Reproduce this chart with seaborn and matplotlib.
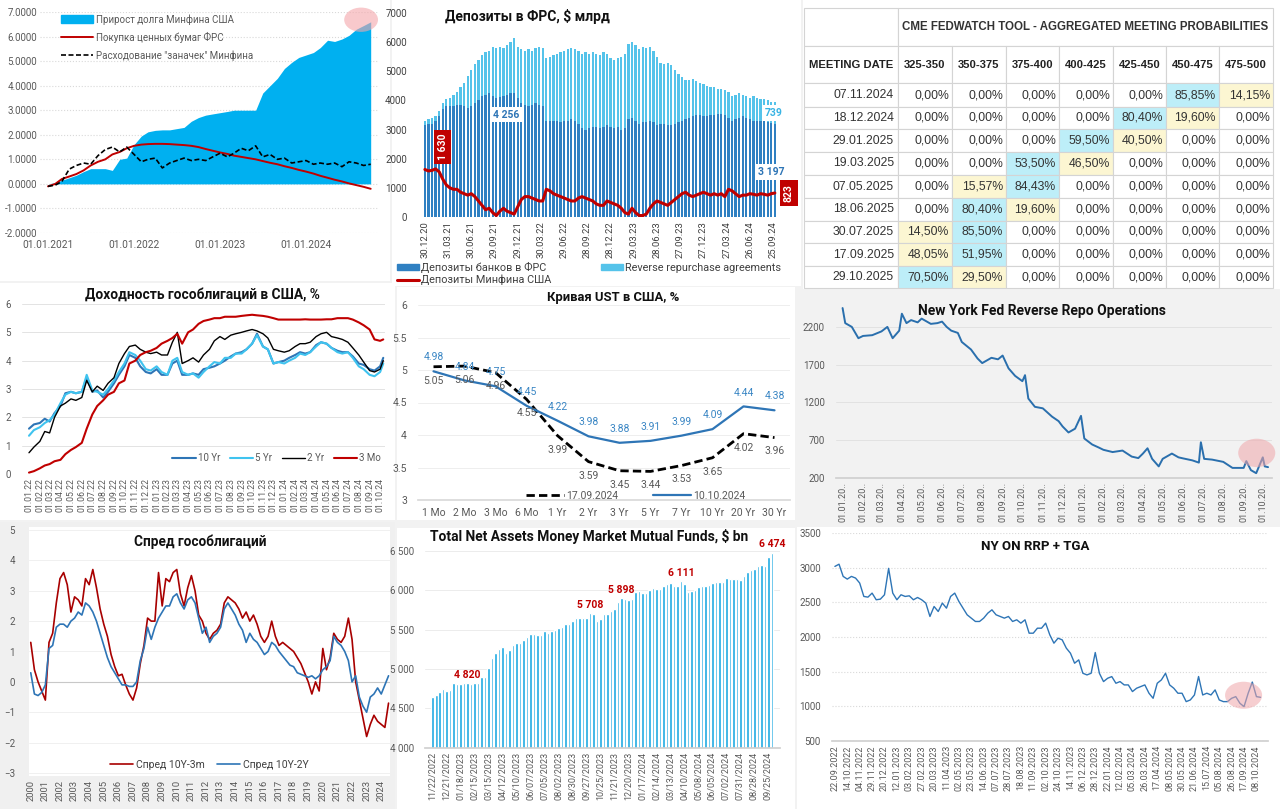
import numpy as np
import pandas as pd
import matplotlib
matplotlib.use("Agg")
import matplotlib.pyplot as plt
import matplotlib.dates as mdates
from matplotlib.patches import Rectangle, Ellipse, Patch
from matplotlib.lines import Line2D
import seaborn as sns

sns.set_theme(style="white")
plt.rcParams['font.family'] = ['Roboto', 'DejaVu Sans']

# ---------------- DATA ----------------
# Panel 1: monthly, Jan 2021 .. Oct 2024 (trillions $)
p1_start = '2021-01-01'
debt_growth = [0, 0.05, 0.15, 0.25, 0.35, 0.5, 0.62, 0.62, 0.62, 0.55, 1.0, 1.05,
               1.6, 1.95, 2.12, 2.18, 2.2, 2.2, 2.25, 2.3, 2.55, 2.7, 2.8, 2.85,
               2.9, 2.95, 3.0, 3.0, 3.0, 3.0, 3.7, 4.0, 4.3, 4.7, 4.95, 5.15,
               5.25, 5.35, 5.55, 5.85, 5.8, 5.9, 6.05, 6.3, 6.45, 6.6]
fed_purchases = [-0.1, 0.0, 0.2, 0.3, 0.4, 0.55, 0.75, 0.9, 1.0, 1.2, 1.3, 1.45,
                 1.55, 1.6, 1.62, 1.63, 1.63, 1.62, 1.6, 1.58, 1.55, 1.5, 1.42, 1.35,
                 1.28, 1.22, 1.15, 1.1, 1.05, 1.0, 0.93, 0.86, 0.8, 0.72, 0.65, 0.57,
                 0.5, 0.42, 0.33, 0.25, 0.17, 0.1, 0.02, -0.05, -0.12, -0.2]
tga_spend = [-0.1, -0.05, 0.1, 0.6, 0.75, 0.85, 0.8, 1.15, 1.4, 1.5, 1.3, 1.5,
             1.2, 0.9, 1.0, 1.05, 0.65, 0.85, 0.95, 1.05, 0.95, 1.0, 0.95, 1.1,
             1.25, 1.1, 1.25, 1.45, 1.35, 1.55, 1.1, 1.2, 1.0, 1.05, 0.85, 0.9,
             0.95, 0.8, 0.85, 0.8, 0.85, 0.7, 0.9, 0.85, 0.75, 0.8]
p1_legend = ['Прирост долга Минфина США', 'Покупка ценных бумаг ФРС', 'Расходование "заначек" Минфина']

# Panel 2: every 2 weeks from 30.12.2020, $ bn
p2_start = '2020-12-30'
bank_deposits = [3150, 3180, 3200, 3300, 3450, 3700, 3800, 3800, 3820, 3850,
                 3850, 3800, 3750, 3800, 3900, 4000, 4150, 4200, 4250, 4150,
                 4100, 4120, 4150, 4200, 4250, 4256, 4100, 3900, 3850, 3800,
                 3850, 3900, 3850, 3800, 3300, 3300, 3280, 3300, 3250, 3300,
                 3300, 3350, 3300, 3200, 3050, 3000, 3050, 3100, 3100, 3050,
                 3100, 3150, 3100, 3050, 3100, 3000, 3050, 3350, 3400, 3300,
                 3200, 3250, 3250, 3300, 3250, 3150, 3200, 3200, 3150, 3150,
                 3200, 3250, 3300, 3350, 3400, 3450, 3500, 3500, 3450, 3480,
                 3500, 3500, 3550, 3550, 3500, 3400, 3300, 3350, 3400, 3450,
                 3400, 3350, 3300, 3300, 3300, 3300, 3250, 3220, 3197]
reverse_repo = [150, 170, 200, 150, 200, 200, 250, 300, 380, 450,
                600, 800, 1100, 1250, 1350, 1400, 1400, 1450, 1450, 1700,
                1700, 1730, 1650, 1700, 1750, 1894, 1750, 1850, 1850, 1950,
                1850, 1900, 2000, 2000, 2150, 2200, 2270, 2300, 2400, 2400,
                2450, 2450, 2450, 2500, 2550, 2650, 2550, 2550, 2500, 2500,
                2550, 2450, 2350, 2350, 2350, 2500, 2550, 2600, 2600, 2600,
                2550, 2600, 2550, 2550, 2450, 2350, 2100, 2050, 2150, 2050,
                1850, 1650, 1500, 1350, 1300, 1300, 1150, 1100, 1100, 1020,
                950, 950, 850, 850, 850, 900, 850, 850, 850, 750,
                750, 750, 850, 800, 750, 750, 750, 730, 739]
treasury_deposits = [1630, 1580, 1600, 1650, 1550, 1300, 1100, 1000, 950, 950,
                     850, 800, 750, 800, 700, 550, 400, 250, 300, 150,
                     50, 200, 300, 200, 150, 100, 350, 600, 700, 700,
                     650, 600, 550, 550, 950, 900, 800, 750, 700, 650,
                     600, 550, 550, 650, 700, 650, 600, 550, 450, 400,
                     400, 550, 500, 450, 400, 300, 150, 100, 300, 150,
                     50, 50, 100, 300, 450, 550, 500, 450, 400, 500,
                     600, 700, 800, 850, 750, 700, 750, 800, 850, 800,
                     750, 800, 750, 800, 700, 950, 900, 800, 700, 750,
                     750, 800, 780, 750, 800, 780, 750, 800, 823]
p2_tick_dates = ['2020-12-30', '2021-03-31', '2021-06-30', '2021-09-29', '2021-12-29',
                 '2022-03-30', '2022-06-29', '2022-09-28', '2022-12-28', '2023-03-29',
                 '2023-06-28', '2023-09-27', '2023-12-27', '2024-03-27', '2024-06-26',
                 '2024-09-25']
p2_legend = ['Депозиты банков в ФРС', 'Депозиты Минфина США', 'Reverse repurchase agreements']

# Panel 3: CME FedWatch table
meeting_dates = ['07.11.2024', '18.12.2024', '29.01.2025', '19.03.2025', '07.05.2025',
                 '18.06.2025', '30.07.2025', '17.09.2025', '29.10.2025']
rate_buckets = ['325-350', '350-375', '375-400', '400-425', '425-450', '450-475', '475-500']
probabilities = [
    [0, 0, 0, 0, 0, 85.85, 14.15],
    [0, 0, 0, 0, 80.40, 19.60, 0],
    [0, 0, 0, 59.50, 40.50, 0, 0],
    [0, 0, 53.50, 46.50, 0, 0, 0],
    [0, 15.57, 84.43, 0, 0, 0, 0],
    [0, 80.40, 19.60, 0, 0, 0, 0],
    [14.50, 85.50, 0, 0, 0, 0, 0],
    [48.05, 51.95, 0, 0, 0, 0, 0],
    [70.50, 29.50, 0, 0, 0, 0, 0]]

# Panel 4: yields, 1st and 15th of each month Jan 2022 .. Sep 2024, then 01.10 and 10.10.2024
yield_3m = [0.05, 0.1, 0.2, 0.3, 0.35, 0.45, 0.5, 0.7, 0.85, 0.95, 1.1, 1.6, 2.1, 2.4, 2.6, 2.8, 2.9, 3.2, 3.3, 3.9, 4.0, 4.2, 4.3, 4.35,
            4.45, 4.6, 4.7, 4.8, 4.95, 4.6, 5.0, 5.1, 5.3, 5.4, 5.45, 5.5, 5.5, 5.55, 5.55, 5.55, 5.58, 5.6, 5.62, 5.6, 5.58, 5.55, 5.5, 5.45,
            5.45, 5.45, 5.45, 5.45, 5.46, 5.45, 5.45, 5.45, 5.46, 5.46, 5.5, 5.5, 5.5, 5.45, 5.35, 5.25, 5.1, 4.75, 4.7, 4.75]
yield_2y = [0.75, 0.95, 1.15, 1.5, 1.45, 2.0, 2.4, 2.5, 2.65, 2.6, 2.7, 3.3, 2.9, 3.1, 2.95, 3.2, 3.4, 3.9, 4.25, 4.5, 4.55, 4.4, 4.3, 4.25,
            4.3, 4.2, 4.2, 4.65, 5.0, 3.9, 4.0, 4.1, 3.95, 4.2, 4.4, 4.7, 4.85, 4.75, 4.9, 4.95, 5.0, 5.05, 5.1, 5.05, 4.95, 4.8, 4.4, 4.35,
            4.3, 4.35, 4.5, 4.6, 4.6, 4.65, 4.85, 4.95, 5.0, 4.85, 4.8, 4.75, 4.65, 4.45, 4.2, 3.95, 3.65, 3.6, 3.7, 4.0]
yield_5y = [1.35, 1.55, 1.65, 1.8, 1.9, 2.1, 2.5, 2.8, 2.9, 2.85, 2.9, 3.5, 2.95, 2.9, 2.8, 3.0, 3.3, 3.6, 3.9, 4.3, 4.2, 4.0, 3.7, 3.65,
            3.8, 3.6, 3.5, 4.0, 4.1, 3.6, 3.5, 3.55, 3.4, 3.6, 3.8, 3.95, 3.9, 4.1, 4.1, 4.25, 4.25, 4.4, 4.6, 4.9, 4.5, 4.4, 3.9, 3.95,
            3.9, 4.0, 4.1, 4.25, 4.2, 4.3, 4.5, 4.65, 4.6, 4.45, 4.3, 4.25, 4.3, 4.1, 3.8, 3.7, 3.5, 3.45, 3.6, 3.9]
yield_10y = [1.6, 1.75, 1.8, 1.95, 1.85, 2.15, 2.4, 2.85, 2.9, 2.85, 2.9, 3.4, 2.9, 2.95, 2.7, 2.9, 3.2, 3.5, 3.8, 4.2, 4.1, 3.8, 3.6, 3.55,
             3.7, 3.5, 3.5, 3.9, 4.0, 3.5, 3.5, 3.55, 3.5, 3.7, 3.75, 3.8, 3.9, 4.0, 4.15, 4.25, 4.3, 4.4, 4.6, 4.95, 4.5, 4.4, 3.9, 3.95,
             4.0, 4.1, 4.2, 4.3, 4.25, 4.3, 4.55, 4.65, 4.6, 4.45, 4.35, 4.3, 4.3, 4.15, 3.9, 3.85, 3.7, 3.65, 3.8, 4.1]
p4_series = ['10 Yr', '5 Yr', '2 Yr', '3 Mo']

# Panel 5: UST curve
tenors = ['1 Mo', '2 Mo', '3 Mo', '6 Mo', '1 Yr', '2 Yr', '3 Yr', '5 Yr', '7 Yr', '10 Yr', '20 Yr', '30 Yr']
curve_sep17 = [5.05, 5.06, 4.96, 4.55, 3.99, 3.59, 3.45, 3.44, 3.53, 3.65, 4.02, 3.96]
curve_oct10 = [4.98, 4.84, 4.75, 4.45, 4.22, 3.98, 3.88, 3.91, 3.99, 4.09, 4.44, 4.38]

# Panel 6: NY Fed reverse repo, $ bn
rrp_ops_dates = ['2023-01-01', '2023-01-05', '2023-01-15', '2023-01-25', '2023-02-01', '2023-02-15', '2023-03-01',
                 '2023-03-10', '2023-03-18', '2023-03-28', '2023-04-01', '2023-04-08', '2023-04-15', '2023-04-25',
                 '2023-05-01', '2023-05-15', '2023-05-25', '2023-06-01', '2023-06-08', '2023-06-15', '2023-06-25',
                 '2023-07-01', '2023-07-15', '2023-07-25', '2023-08-01', '2023-08-15', '2023-08-25', '2023-09-01',
                 '2023-09-10', '2023-09-20', '2023-10-01', '2023-10-05', '2023-10-10', '2023-10-20', '2023-11-01',
                 '2023-11-15', '2023-11-25', '2023-12-01', '2023-12-10', '2023-12-20', '2023-12-29', '2024-01-03',
                 '2024-01-15', '2024-01-25', '2024-02-01', '2024-02-15', '2024-03-01', '2024-03-15', '2024-03-25',
                 '2024-04-01', '2024-04-08', '2024-04-15', '2024-04-25', '2024-05-01', '2024-05-15', '2024-05-25',
                 '2024-06-01', '2024-06-15', '2024-06-25', '2024-06-28', '2024-07-03', '2024-07-15', '2024-08-01',
                 '2024-08-15', '2024-09-01', '2024-09-05', '2024-09-12', '2024-09-20', '2024-09-30', '2024-10-03',
                 '2024-10-08']
rrp_ops = [2450, 2250, 2200, 2050, 2080, 2090, 2140, 2200, 2050, 2150, 2375, 2250, 2290, 2260,
           2310, 2240, 2250, 2270, 2200, 2150, 2120, 2000, 1900, 1780, 1720, 1790, 1770, 1820,
           1650, 1550, 1480, 1560, 1250, 1140, 1120, 1010, 950, 880, 800, 850, 1020, 720,
           640, 600, 570, 540, 560, 480, 460, 520, 590, 450, 350, 450, 520, 470,
           456, 430, 400, 670, 450, 440, 410, 330, 330, 420, 300, 260, 470, 350, 340]

# Panel 7: spreads, quarterly 2000 .. mid-2024
spread_10y3m = [1.3, 0.4, 0.0, -0.3, -0.6, 1.3, 1.6, 2.6, 3.4, 3.6, 3.2, 2.3, 2.8, 2.7, 2.5, 3.4, 3.2, 3.7, 3.1, 2.4,
                1.9, 1.5, 0.9, 0.5, 0.2, 0.25, -0.1, -0.4, -0.6, -0.2, 0.6, 1.2, 2.1, 2.0, 2.0, 3.6, 2.5, 3.4, 3.3, 3.6,
                3.7, 2.9, 2.5, 3.1, 3.5, 3.0, 2.2, 2.0, 1.6, 1.4, 1.6, 1.7, 1.9, 2.6, 2.8, 2.7, 2.6, 2.4, 2.1, 2.3,
                2.0, 2.2, 1.9, 1.5, 1.3, 1.5, 2.0, 1.5, 1.2, 1.3, 1.2, 1.1, 1.0, 0.8, 0.6, 0.3, 0.0, -0.4, 0.0, -0.3,
                1.1, 0.4, 0.8, 1.6, 1.4, 1.3, 1.5, 2.1, 1.4, 0.0, -0.6, -1.2, -1.8, -1.4, -1.1, -1.3, -1.4, -1.5, -0.7]
spread_10y2y = [0.3, -0.4, -0.45, -0.35, -0.1, 1.1, 1.2, 1.8, 1.9, 1.9, 1.8, 2.0, 2.1, 2.3, 2.2, 2.6, 2.5, 2.3, 2.0, 1.6,
                1.2, 0.8, 0.5, 0.3, 0.1, -0.1, -0.1, -0.15, -0.15, 0.0, 0.7, 1.1, 1.8, 1.4, 1.8, 2.1, 2.3, 2.5, 2.5, 2.8,
                2.9, 2.6, 2.4, 2.7, 2.8, 2.6, 2.1, 1.6, 1.8, 1.3, 1.5, 1.6, 1.8, 2.4, 2.6, 2.4, 2.2, 1.9, 1.7, 1.3,
                1.6, 1.4, 1.3, 1.1, 0.9, 1.0, 1.3, 1.2, 1.0, 0.85, 0.7, 0.55, 0.5, 0.3, 0.25, 0.2, 0.15, 0.2, 0.1, 0.2,
                0.4, 0.5, 0.7, 1.5, 1.3, 1.2, 1.0, 0.7, 0.0, 0.2, -0.5, -0.8, -1.0, -0.5, -0.4, -0.2, -0.4, -0.1, 0.2]
p7_legend = ['Спред 10Y-3m', 'Спред 10Y-2Y']

# Panel 8: MMF total net assets, weekly
mmf_assets = [4648, 4670, 4712, 4740, 4720, 4733, 4818, 4810, 4810, 4818,
              4820, 4810, 4818, 4818, 4900, 4900, 5008, 5135, 5200, 5250,
              5275, 5208, 5240, 5305, 5326, 5335, 5370, 5411, 5445, 5445,
              5428, 5428, 5475, 5453, 5475, 5496, 5517, 5538, 5572, 5572,
              5602, 5640, 5652, 5644, 5652, 5708, 5700, 5614, 5631, 5695,
              5700, 5729, 5758, 5843, 5898, 5890, 5877, 5890, 5979, 5983,
              5962, 5962, 5996, 6021, 6013, 6013, 6055, 6080, 6095, 6046,
              6046, 6111, 6076, 5975, 5983, 6004, 6034, 6046, 6055, 6068,
              6089, 6102, 6102, 6097, 6152, 6144, 6140, 6144, 6127, 6182,
              6225, 6250, 6267, 6300, 6322, 6300, 6419, 6474]
mmf_label_idx = [10, 45, 54, 71, 97]
mmf_ticklabels = ['11/22/2022', '12/21/2022', '01/18/2023', '02/15/2023', '03/15/2023', '04/12/2023',
                  '05/10/2023', '06/07/2023', '07/05/2023', '08/02/2023', '08/30/2023', '09/27/2023',
                  '10/25/2023', '11/21/2023', '12/20/2023', '01/17/2024', '02/14/2024', '03/13/2024',
                  '04/10/2024', '05/08/2024', '06/05/2024', '07/02/2024', '07/31/2024', '08/28/2024',
                  '09/25/2024']

# Panel 9: NY ON RRP + TGA, every 5 business days
rrp_tga = [3018, 3050, 2874, 2835, 2874, 2850, 2778, 2585, 2575, 2633,
           2537, 2546, 2609, 2990, 2633, 2537, 2609, 2585, 2594, 2537,
           2570, 2537, 2489, 2296, 2440, 2368, 2489, 2416, 2585, 2633,
           2513, 2416, 2320, 2272, 2224, 2224, 2272, 2344, 2392, 2320,
           2296, 2272, 2296, 2224, 2248, 2200, 2248, 2055, 2055, 2127,
           2127, 2200, 2031, 1911, 1983, 1959, 1839, 1766, 1622, 1670,
           1477, 1453, 1477, 1776, 1477, 1357, 1405, 1429, 1333, 1357,
           1309, 1309, 1213, 1261, 1285, 1309, 1189, 1116, 1333, 1381,
           1477, 1309, 1261, 1189, 1189, 1068, 1092, 1164, 1430, 1164,
           1189, 1164, 1237, 1092, 1068, 1068, 1116, 1140, 1044, 996,
           1189, 1350, 1140, 1130]
rrp_tga_ticklabels = ['22.09.2022', '14.10.2022', '04.11.2022', '29.11.2022', '20.12.2022', '12.01.2023',
                      '03.02.2023', '27.02.2023', '20.03.2023', '11.04.2023', '02.05.2023', '23.05.2023',
                      '14.06.2023', '07.07.2023', '28.07.2023', '18.08.2023', '11.09.2023', '02.10.2023',
                      '24.10.2023', '14.11.2023', '06.12.2023', '28.12.2023', '22.01.2024', '12.02.2024',
                      '05.03.2024', '26.03.2024', '17.04.2024', '08.05.2024', '30.05.2024', '21.06.2024',
                      '15.07.2024', '05.08.2024', '26.08.2024', '17.09.2024', '08.10.2024']

# ---------------- LAYOUT HELPERS ----------------
W, H = 1280, 809
fig = plt.figure(figsize=(12.8, 8.09), dpi=100)
fig.patch.set_facecolor('#f2f2f2')
TICK = '#595959'


def frect(x0, y0, x1, y1):
    return [x0 / W, 1 - y1 / H, (x1 - x0) / W, (y1 - y0) / H]


def bg(x0, y0, x1, y1, color):
    fig.add_artist(Rectangle((x0 / W, 1 - y1 / H), (x1 - x0) / W, (y1 - y0) / H,
                             transform=fig.transFigure, facecolor=color, edgecolor='none', zorder=-5))


def ftext(x, y, s, **kw):
    fig.text(x / W, 1 - y / H, s, **kw)


def clean(ax, size=7, color=TICK):
    for s in ax.spines.values():
        s.set_visible(False)
    ax.set_facecolor('none')
    ax.tick_params(axis='both', length=0, labelsize=size, colors=color, pad=2)


def spaced(v):
    return f'{v:,}'.replace(',', ' ')


bg(0, 0, 390, 281, 'white')
bg(392, 0, 801, 286, 'white')
bg(803, 0, 1280, 289, 'white')
bg(0, 283, 395, 520, 'white')
bg(397, 287, 795, 520, 'white')
bg(797, 290, 1280, 520, '#f2f2f2')
bg(0, 522, 395, 809, '#f0f0f0')
bg(397, 528, 795, 809, 'white')
bg(797, 527, 1280, 809, 'white')

# ---------------- PANEL 1 ----------------
p1_dates = pd.date_range(p1_start, periods=len(debt_growth), freq='MS')
ax1 = fig.add_axes(frect(40, 12, 378, 233))
clean(ax1)
ax1.fill_between(p1_dates, 0, debt_growth, color='#00b0f0', lw=0, zorder=2)
sns.lineplot(x=p1_dates, y=fed_purchases, ax=ax1, color='#c00000', lw=1.4, zorder=3)
sns.lineplot(x=p1_dates, y=tga_spend, ax=ax1, color='black', lw=1.2, linestyle=(0, (3, 1.5)), zorder=4)
ax1.set_xlim(pd.Timestamp('2020-11-28'), pd.Timestamp('2024-11-01'))
ax1.set_ylim(-2, 7)
ax1.set_yticks(range(-2, 8))
ax1.set_yticklabels([f'{v:.4f}' for v in range(-2, 8)])
ax1.yaxis.grid(True, color='#d9d9d9', ls=':', lw=0.8)
ax1.set_axisbelow(True)
ax1.set_xticks(pd.to_datetime(['2021-01-01', '2022-01-01', '2023-01-01', '2024-01-01']))
ax1.xaxis.set_major_formatter(mdates.DateFormatter('%d.%m.%Y'))
ax1.tick_params(axis='x', pad=5, labelsize=7.3)
h1 = [Patch(color='#00b0f0'), Line2D([], [], color='#c00000', lw=1.4),
      Line2D([], [], color='black', lw=1.2, ls=(0, (3, 1.5)))]
ax1.legend(h1, p1_legend, loc='upper left', bbox_to_anchor=(0.035, 1.03), frameon=False,
           fontsize=7, labelcolor=TICK, handlelength=3.3, handleheight=0.9, labelspacing=0.75,
           handletextpad=0.3)
ax1.add_patch(Ellipse((0.95, 0.965), 0.1, 0.11, transform=ax1.transAxes, color='#f4a6aa',
                      alpha=0.6, clip_on=False, zorder=5, lw=0))

# ---------------- PANEL 2 ----------------
p2_dates = pd.date_range(p2_start, periods=len(bank_deposits), freq='14D')
ax2 = fig.add_axes(frect(418, 13, 782, 217))
clean(ax2, 7, '#404040')
ax2.bar(p2_dates, bank_deposits, width=9, color='#2f80c2', lw=0, zorder=2)
ax2.bar(p2_dates, reverse_repo, bottom=bank_deposits, width=9, color='#55c3ea', lw=0, zorder=2)
sns.lineplot(x=p2_dates, y=treasury_deposits, ax=ax2, color='#c00000', lw=2.2, zorder=3)
ax2.set_xlim(pd.Timestamp('2020-12-03'), pd.Timestamp('2024-10-30'))
ax2.set_ylim(0, 7000)
ax2.set_yticks(range(0, 7001, 1000))
ax2.yaxis.set_tick_params(pad=8)
ax2.set_xticks(pd.to_datetime(p2_tick_dates))
ax2.xaxis.set_major_formatter(mdates.DateFormatter('%d.%m.%y'))
ax2.tick_params(axis='x', rotation=90, labelsize=6.8, pad=3)
ftext(445, 17, 'Депозиты в ФРС, $ млрд', fontsize=10, fontweight='bold', va='center', color='#111111')
d0, dl = p2_dates[0], p2_dates[-1]
ax2.text(d0 + pd.Timedelta(days=70), treasury_deposits[0] + 770, spaced(treasury_deposits[0]),
         rotation=90, ha='center', va='center', color='white', fontsize=7.5, fontweight='bold',
         bbox=dict(boxstyle='square,pad=0.35', fc='#c00000', ec='none'), zorder=6)
ax2.text(dl + pd.Timedelta(days=55), treasury_deposits[-1], spaced(treasury_deposits[-1]),
         rotation=90, ha='center', va='center', color='white', fontsize=7.5, fontweight='bold',
         bbox=dict(boxstyle='square,pad=0.35', fc='#c00000', ec='none'), zorder=6, clip_on=False)
ax2.text(p2_dates[25] - pd.Timedelta(days=30), bank_deposits[25] - 750, spaced(bank_deposits[25]),
         ha='center', va='center', color='#2e75b6', fontsize=7.5, fontweight='bold',
         bbox=dict(boxstyle='square,pad=0.25', fc='white', ec='none'), zorder=6)
ax2.text(dl - pd.Timedelta(days=5), bank_deposits[-1] + reverse_repo[-1] - 370, spaced(reverse_repo[-1]),
         ha='center', va='center', color='#3ab4e4', fontsize=7.5, fontweight='bold',
         bbox=dict(boxstyle='square,pad=0.25', fc='white', ec='none'), zorder=6)
ax2.text(dl - pd.Timedelta(days=15), bank_deposits[-1] - 1650, spaced(bank_deposits[-1]),
         ha='center', va='center', color='#2e75b6', fontsize=7.5, fontweight='bold',
         bbox=dict(boxstyle='square,pad=0.25', fc='white', ec='none'), zorder=6)
h2 = [Patch(color='#2f80c2'), Line2D([], [], color='#c00000', lw=2.2), Patch(color='#55c3ea')]
ax2.legend(h2, p2_legend, loc='upper left', bbox_to_anchor=(-0.07, -0.2), ncol=2, frameon=False,
           fontsize=7.8, labelcolor='#404040', handlelength=2.0, handleheight=0.5, labelspacing=0.15,
           handletextpad=0.2, columnspacing=4.6, borderaxespad=0)

# ---------------- PANEL 3 (table) ----------------
ax3 = fig.add_axes(frect(800, 0, 1280, 290))
ax3.set_xlim(800, 1280)
ax3.set_ylim(290, 0)
ax3.axis('off')
col_edges = [804, 898, 952, 1006, 1059, 1113, 1166, 1219, 1273]
row_edges = [8, 46, 83, 107, 129, 152, 175, 198, 221, 243, 266, 288]
EDGE = '#d4d4d4'
TF = ['Liberation Sans', 'DejaVu Sans']
ax3.add_patch(Rectangle((col_edges[0], row_edges[0]), col_edges[1] - col_edges[0],
                        row_edges[1] - row_edges[0], fc='white', ec=EDGE, lw=0.8))
ax3.add_patch(Rectangle((col_edges[1], row_edges[0]), col_edges[-1] - col_edges[1],
                        row_edges[1] - row_edges[0], fc='white', ec=EDGE, lw=0.8))
ax3.text((col_edges[1] + col_edges[-1]) / 2, (row_edges[0] + row_edges[1]) / 2,
         'CME FEDWATCH TOOL - AGGREGATED MEETING PROBABILITIES', ha='center', va='center',
         fontsize=8.3, fontweight='bold', color='#333333', family=TF)
header = ['MEETING DATE'] + rate_buckets
for j, lab in enumerate(header):
    x0, x1 = col_edges[j], col_edges[j + 1]
    ax3.add_patch(Rectangle((x0, row_edges[1]), x1 - x0, row_edges[2] - row_edges[1], fc='white', ec=EDGE, lw=0.8))
    ax3.text((x0 + x1) / 2, (row_edges[1] + row_edges[2]) / 2, lab, ha='center', va='center',
             fontsize=8.1, fontweight='bold', color='#222222', family=TF)
for i, (dt, row) in enumerate(zip(meeting_dates, probabilities)):
    y0, y1 = row_edges[i + 2], row_edges[i + 3]
    ax3.add_patch(Rectangle((col_edges[0], y0), col_edges[1] - col_edges[0], y1 - y0, fc='white', ec=EDGE, lw=0.8))
    ax3.text(col_edges[1] - 4, (y0 + y1) / 2, dt, ha='right', va='center', fontsize=8.8,
             color='#333333', family=TF)
    top = max(row)
    for j, v in enumerate(row):
        x0, x1 = col_edges[j + 1], col_edges[j + 2]
        fc = '#bdeef8' if v == top else ('#fcf6d2' if v > 0 else 'white')
        ax3.add_patch(Rectangle((x0, y0), x1 - x0, y1 - y0, fc=fc, ec=EDGE, lw=0.8))
        ax3.text(x1 - 3, (y0 + y1) / 2, f'{v:.2f}%'.replace('.', ','), ha='right', va='center',
                 fontsize=8.8, color='#333333', family=TF)

# ---------------- PANEL 4 ----------------
p4_dates = []
for m in pd.date_range('2022-01-01', '2024-09-01', freq='MS'):
    p4_dates += [m, m + pd.Timedelta(days=14)]
p4_dates += [pd.Timestamp('2024-10-01'), pd.Timestamp('2024-10-10')]
ax4 = fig.add_axes(frect(22, 304, 385, 474))
clean(ax4, 7)
p4_colors = ['#2e75b6', '#3fc3ef', 'black', '#c00000']
p4_widths = [1.5, 1.5, 1.0, 1.5]
for name, vals, c, lw in zip(p4_series, [yield_10y, yield_5y, yield_2y, yield_3m], p4_colors, p4_widths):
    sns.lineplot(x=p4_dates, y=vals, ax=ax4, color=c, lw=lw, label=name)
ax4.set_xlim(pd.Timestamp('2021-12-12'), pd.Timestamp('2024-10-15'))
ax4.set_ylim(0, 6)
ax4.set_yticks(range(0, 7))
ax4.yaxis.grid(True, color='#e3e3e3', lw=0.7)
ax4.set_axisbelow(True)
ax4.set_xticks(pd.date_range('2022-01-01', '2024-10-01', freq='MS'))
ax4.xaxis.set_major_formatter(mdates.DateFormatter('%d.%m.%y'))
ax4.tick_params(axis='x', rotation=90, labelsize=6.3, pad=3)
ax4.tick_params(axis='y', pad=8)
ax4.legend(loc='lower right', bbox_to_anchor=(1.0, 0.04), ncol=4, frameon=False, fontsize=7,
           labelcolor=TICK, handlelength=2.4, columnspacing=1.0, handletextpad=0.2, borderaxespad=0)
ftext(202, 295, 'Доходность гособлигаций в США, %', fontsize=9.9, fontweight='bold',
      ha='center', va='center', color='#111111')

# ---------------- PANEL 5 ----------------
pos = np.arange(len(tenors))
ax5 = fig.add_axes(frect(418, 305, 790, 500))
clean(ax5, 7.5)
sns.lineplot(x=pos, y=curve_sep17, ax=ax5, color='black', lw=2.0, linestyle=(0, (3, 1.5)), label='17.09.2024')
sns.lineplot(x=pos, y=curve_oct10, ax=ax5, color='#2e75b6', lw=1.6, label='10.10.2024')
for i in pos:
    ax5.annotate(f'{curve_oct10[i]:.2f}', (i, curve_oct10[i]), xytext=(0, 10), textcoords='offset points',
                 ha='center', va='center', fontsize=7.5, color='#3a86c4')
    ax5.annotate(f'{curve_sep17[i]:.2f}', (i, curve_sep17[i]), xytext=(0, -10), textcoords='offset points',
                 ha='center', va='center', fontsize=7.5, color='#595959')
ax5.set_xlim(-0.5, len(tenors) - 0.5)
ax5.set_ylim(3, 6)
ax5.set_yticks(np.arange(3, 6.01, 0.5))
ax5.set_yticklabels([f'{v:g}' for v in np.arange(3, 6.01, 0.5)])
ax5.set_xticks(pos)
ax5.set_xticklabels(tenors)
ax5.yaxis.grid(True, color='#eeeeee', lw=0.7)
ax5.spines['bottom'].set_visible(True)
ax5.spines['bottom'].set_color('#d9d9d9')
ax5.tick_params(axis='x', pad=6)
ax5.tick_params(axis='y', pad=8)
ax5.legend(loc='lower center', bbox_to_anchor=(0.585, -0.035), ncol=2, frameon=False, fontsize=7.5,
           labelcolor=TICK, handlelength=3.6, columnspacing=3.4, handletextpad=0.2, borderaxespad=0.2)
ftext(613, 297, 'Кривая UST в США, %', fontsize=9.4, fontweight='bold', ha='center', va='center', color='#111111')

# ---------------- PANEL 6 ----------------
ax6 = fig.add_axes(frect(836, 300.5, 1272, 477.7))
clean(ax6, 7)
sns.lineplot(x=pd.to_datetime(rrp_ops_dates), y=rrp_ops, ax=ax6, color='#2a6fad', lw=1.4)
ax6.set_xlim(pd.Timestamp('2022-12-22'), pd.Timestamp('2024-10-14'))
ax6.set_ylim(200, 2550)
ax6.set_yticks([200, 700, 1200, 1700, 2200])
ax6.yaxis.grid(True, color='#e2e2e2', lw=0.7)
ax6.set_axisbelow(True)
p6_ticks = pd.date_range('2023-01-01', '2024-10-01', freq='MS')
ax6.set_xticks(p6_ticks)
ax6.set_xticklabels([d.strftime('%d.%m.') + '20..' for d in p6_ticks])
ax6.tick_params(axis='x', rotation=90, labelsize=6.5, pad=3)
ax6.tick_params(axis='y', pad=8)
ax6.spines['bottom'].set_visible(True)
ax6.spines['bottom'].set_color('#d0d0d0')
ax6.add_patch(Ellipse((0.965, 0.14), 0.085, 0.16, transform=ax6.transAxes, color='#f0a6aa',
                      alpha=0.55, clip_on=False, zorder=5, lw=0))
ftext(1042, 311, 'New York Fed Reverse Repo Operations', fontsize=10, fontweight='bold',
      ha='center', va='center', color='#111111')

# ---------------- PANEL 7 ----------------
spread_years = 2000 + np.arange(len(spread_10y3m)) / 4
ax7 = fig.add_axes(frect(29, 527, 390, 776))
clean(ax7, 7)
ax7.set_facecolor('white')
ax7.axhline(0, color='#c8c8c8', lw=0.8, zorder=1)
sns.lineplot(x=spread_years, y=spread_10y3m, ax=ax7, color='#a80000', lw=1.2, label=p7_legend[0])
sns.lineplot(x=spread_years, y=spread_10y2y, ax=ax7, color='#2e75b6', lw=1.2, label=p7_legend[1])
ax7.set_xlim(1999.88, 2024.6)
ax7.set_ylim(-3.1, 5.1)
ax7.set_yticks(range(-3, 6))
ax7.yaxis.grid(True, color='#f0f0f0', lw=0.7)
ax7.set_axisbelow(True)
ax7.set_xticks(range(2000, 2025))
ax7.set_xticklabels([str(y) for y in range(2000, 2025)])
ax7.tick_params(axis='x', rotation=90, labelsize=6.8, pad=3)
ax7.tick_params(axis='y', pad=10)
ax7.legend(loc='lower center', bbox_to_anchor=(0.5, 0.0), ncol=2, frameon=False, fontsize=7.5,
           labelcolor='#404040', handlelength=2.2, columnspacing=1.2, handletextpad=0.3, borderaxespad=0.2)
ftext(200, 542, 'Спред гособлигаций', fontsize=9.8, fontweight='bold', ha='center', va='center', color='#111111')

# ---------------- PANEL 8 ----------------
ax8 = fig.add_axes(frect(425, 546, 780, 747.7))
idx = list(range(len(mmf_assets)))
sns.barplot(x=idx, y=mmf_assets, ax=ax8, color='#1ba9e2', saturation=1, width=0.75, errorbar=None)
clean(ax8, 7)
ax8.set_xlim(-2.2, len(mmf_assets) + 1.3)
ax8.set_ylim(4000, 6560)
ax8.set_yticks(range(4000, 6501, 500))
ax8.set_yticklabels([spaced(v) for v in range(4000, 6501, 500)])
ax8.yaxis.grid(True, color='#ececec', lw=0.7)
ax8.set_axisbelow(True)
ax8.set_xticks(range(0, len(mmf_assets), 4))
ax8.set_xticklabels(mmf_ticklabels)
ax8.tick_params(axis='x', rotation=90, labelsize=6.5, pad=3)
ax8.tick_params(axis='y', pad=8)
ax8.spines['bottom'].set_visible(True)
ax8.spines['bottom'].set_color('#d0d0d0')
for i in mmf_label_idx:
    ax8.text(i, mmf_assets[i] + 45, spaced(mmf_assets[i]), ha='center', va='bottom',
             color='#c00000', fontsize=7.5, fontweight='bold', clip_on=False)
ftext(430, 537, 'Total Net Assets Money Market Mutual Funds, $ bn', fontsize=9.9, fontweight='bold',
      ha='left', va='center', color='#111111')

# ---------------- PANEL 9 ----------------
ax9 = fig.add_axes(frect(832, 533, 1268, 741))
clean(ax9, 7)
k = np.arange(len(rrp_tga))
sns.lineplot(x=k, y=rrp_tga, ax=ax9, color='#2e75b6', lw=1.0)
ax9.set_xlim(-0.7, 104.8)
ax9.set_ylim(500, 3500)
ax9.set_yticks(range(500, 3501, 500))
ax9.yaxis.grid(True, color='#d9d9d9', ls=':', lw=0.8)
ax9.set_axisbelow(True)
ax9.set_xticks(range(0, len(rrp_tga), 3)[:len(rrp_tga_ticklabels)])
ax9.set_xticklabels(rrp_tga_ticklabels)
ax9.tick_params(axis='x', rotation=90, labelsize=6.5, pad=3)
ax9.tick_params(axis='y', pad=8)
ax9.spines['bottom'].set_visible(True)
ax9.spines['bottom'].set_color('#d0d0d0')
ax9.add_patch(Ellipse((0.944, 0.22), 0.085, 0.13, transform=ax9.transAxes, color='#f0a6aa',
                      alpha=0.55, clip_on=False, zorder=5, lw=0))
ftext(1035, 547, 'NY ON RRP + TGA', fontsize=9.5, fontweight='bold', ha='center', va='center', color='#111111')

for ax in [ax1, ax2, ax4, ax5, ax6, ax7, ax8, ax9]:
    ax.set_xlabel('')
    ax.set_ylabel('')

fig.savefig('out.png', dpi=100, facecolor=fig.get_facecolor())
